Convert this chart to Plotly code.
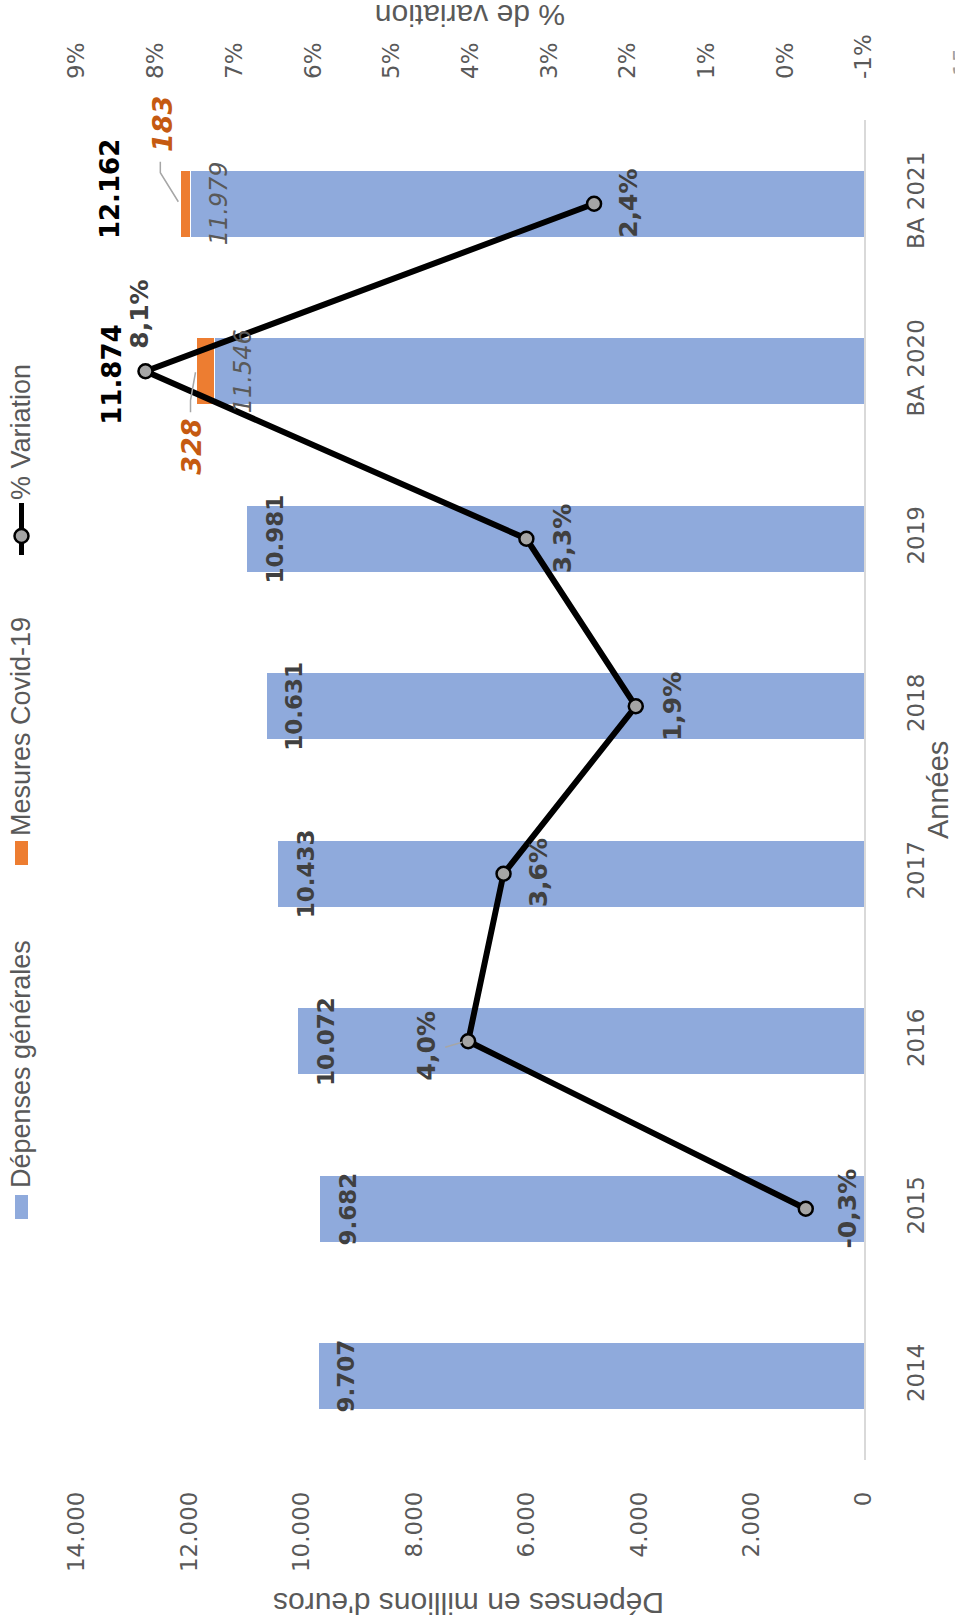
import plotly.graph_objects as go

# ---------------- data ----------------
categories = ["2014", "2015", "2016", "2017", "2018", "2019", "BA 2020", "BA 2021"]
general = [9707, 9682, 10072, 10433, 10631, 10981, 11546, 11979]
covid = [None, None, None, None, None, None, 328, 183]
totals = [None, None, None, None, None, None, 11874, 12162]

pct_categories = ["2015", "2016", "2017", "2018", "2019", "BA 2020", "BA 2021"]
pct_values = [-0.26, 4.03, 3.58, 1.90, 3.29, 8.13, 2.43]

spend_ticks = [0, 2000, 4000, 6000, 8000, 10000, 12000, 14000]
spend_tick_labels = ["0", "2.000", "4.000", "6.000", "8.000", "10.000", "12.000", "14.000"]
pct_ticks = [-1, 0, 1, 2, 3, 4, 5, 6, 7, 8, 9]
pct_tick_labels = ["-1%", "0%", "1%", "2%", "3%", "4%", "5%", "6%", "7%", "8%", "9%"]

# ---------------- layout constants ----------------
W, H = 955, 1623
L, R, T, B = 77, 91, 120, 163
PW, PH = W - L - R, H - T - B

BLUE = "#8faadc"
ORANGE = "#ed7d31"
DARK_ORANGE = "#c55a11"
GREY_TXT = "#595959"
LABEL_TXT = "#404040"


def fx(px):
    return (px - L) / PW


def fy(py):
    return (H - B - py) / PH


def cidx(cat):
    # position of a category on the category axis (index)
    return categories.index(cat)


def fmt_thousands(v):
    return f"{v:,}".replace(",", ".")


def fmt_pct(v):
    return f"{v:.1f}".replace(".", ",") + "%"


fig = go.Figure()

fig.add_trace(go.Bar(
    y=categories, x=general, orientation="h", name="Dépenses générales",
    marker=dict(color=BLUE, line=dict(color="white", width=1)), width=0.4,
    showlegend=False, hoverinfo="skip",
))
fig.add_trace(go.Bar(
    y=categories, x=covid, orientation="h", name="Mesures Covid-19",
    marker=dict(color=ORANGE, line=dict(color="white", width=1)), width=0.4,
    showlegend=False, hoverinfo="skip",
))
fig.add_trace(go.Scatter(
    y=pct_categories, x=pct_values, xaxis="x2", yaxis="y",
    mode="lines+markers", name="% Variation",
    line=dict(color="black", width=6),
    marker=dict(size=14, color="#a5a5a5", line=dict(color="black", width=2.5)),
    showlegend=False, hoverinfo="skip",
))

annotations = []

# general spending labels
for cat, v in zip(categories, general):
    if cat.startswith("BA"):
        font = dict(family="DejaVu Sans", size=24, color=GREY_TXT, style="italic")
    else:
        font = dict(family="DejaVu Sans", size=23, color=LABEL_TXT, weight="bold")
    annotations.append(dict(
        x=v, y=cidx(cat), xref="x", yref="y", text=fmt_thousands(v), showarrow=False,
        textangle=-90, xanchor="center", yanchor="middle", xshift=28, font=font,
    ))

# totals and covid labels
total_shift = {"BA 2020": (-84, -4), "BA 2021": (-71, 15)}
covid_shift = {"BA 2020": (-5, -76), "BA 2021": (-18, 80)}
for cat, tot, c in zip(categories, totals, covid):
    if tot is None:
        continue
    sx, sy = total_shift[cat]
    annotations.append(dict(
        x=tot, y=cidx(cat), xref="x", yref="y", text=fmt_thousands(tot), showarrow=False,
        textangle=-90, xanchor="center", yanchor="middle", xshift=sx, yshift=sy,
        font=dict(family="DejaVu Sans", size=26, color="black", weight="bold"),
    ))
    cx, cy = covid_shift[cat]
    annotations.append(dict(
        x=tot, y=cidx(cat), xref="x", yref="y", text=str(c), showarrow=False,
        textangle=-90, xanchor="center", yanchor="middle", xshift=cx, yshift=cy,
        font=dict(family="DejaVu Sans", size=27, color=DARK_ORANGE, weight="bold", style="italic"),
    ))

# percentage labels
pct_shift = {"2015": (42, 0), "2016": (-42, -5), "2017": (35, 1), "2018": (36, 0),
             "2019": (36, 0), "BA 2020": (-6, 57), "BA 2021": (35, 0)}
for cat, v in zip(pct_categories, pct_values):
    sx, sy = pct_shift[cat]
    annotations.append(dict(
        x=v, y=cidx(cat), xref="x2", yref="y", text=fmt_pct(v), showarrow=False,
        textangle=-90, xanchor="center", yanchor="middle", xshift=sx, yshift=sy,
        font=dict(family="DejaVu Sans", size=25, color=LABEL_TXT, weight="bold"),
    ))

# axis titles
annotations.append(dict(
    x=0.5, y=fy(16), xref="paper", yref="paper", text="% de variation", showarrow=False,
    textangle=180, xanchor="center", yanchor="middle",
    font=dict(family="Liberation Sans", size=30, color=GREY_TXT),
))
annotations.append(dict(
    x=fx(469), y=fy(1604), xref="paper", yref="paper", text="Dépenses en millions d'euros",
    showarrow=False, textangle=180, xanchor="center", yanchor="middle",
    font=dict(family="Liberation Sans", size=30, color=GREY_TXT),
))
annotations.append(dict(
    x=fx(938), y=0.5, xref="paper", yref="paper", text="Années", showarrow=False,
    textangle=-90, xanchor="center", yanchor="middle",
    font=dict(family="Liberation Sans", size=29, color=GREY_TXT),
))

# legend texts
legend_font = dict(family="Liberation Sans", size=27, color=GREY_TXT)
annotations.append(dict(x=fx(21), y=fy(1064), xref="paper", yref="paper", text="Dépenses générales",
                        showarrow=False, textangle=-90, xanchor="center", yanchor="middle", font=legend_font))
annotations.append(dict(x=fx(21), y=fy(727), xref="paper", yref="paper", text="Mesures Covid-19",
                        showarrow=False, textangle=-90, xanchor="center", yanchor="middle", font=legend_font))
annotations.append(dict(x=fx(21), y=fy(432), xref="paper", yref="paper", text="% Variation",
                        showarrow=False, textangle=-90, xanchor="center", yanchor="middle", font=legend_font))

# page number at the right edge (partly outside the page, as in the reference)
annotations.append(dict(x=fx(962), y=fy(62), xref="paper", yref="paper", text="15",
                        showarrow=False, textangle=-90, xanchor="center", yanchor="middle",
                        font=dict(family="DejaVu Sans", size=22, color="#a0a0a0")))

shapes = []
# legend symbols
shapes.append(dict(type="rect", xref="paper", yref="paper", x0=fx(15), x1=fx(28), y0=fy(1219), y1=fy(1195),
                   fillcolor=BLUE, line=dict(width=0)))
shapes.append(dict(type="rect", xref="paper", yref="paper", x0=fx(15), x1=fx(28), y0=fy(865), y1=fy(841),
                   fillcolor=ORANGE, line=dict(width=0)))
shapes.append(dict(type="line", xref="paper", yref="paper", x0=fx(21.5), x1=fx(21.5), y0=fy(503), y1=fy(555),
                   line=dict(color="black", width=5)))
shapes.append(dict(type="circle", xref="paper", yref="paper", x0=fx(14.5), x1=fx(28.5), y0=fy(543), y1=fy(529),
                   fillcolor="#a5a5a5", line=dict(color="black", width=2.5)))

# leader lines
leader = dict(type="path", xsizemode="pixel", ysizemode="pixel", line=dict(color="#a6a6a6", width=1.5))
shapes.append(dict(leader, xref="x", yref="y", xanchor=12162, yanchor=cidx("BA 2021"),
                   path="M -20 42 L -20 31 L -2 2"))
shapes.append(dict(leader, xref="x", yref="y", xanchor=11874, yanchor=cidx("BA 2020"),
                   path="M -6 -41 L -6 -29 L -1 -1"))
shapes.append(dict(leader, xref="x2", yref="y", xanchor=4.03, yanchor=cidx("2016"),
                   path="M -23 -6 L -6 -1"))

tick_font = dict(family="DejaVu Sans", size=23, color=GREY_TXT)

fig.update_layout(
    width=W, height=H, autosize=False,
    margin=dict(l=L, r=R, t=T, b=B, pad=0),
    paper_bgcolor="white", plot_bgcolor="white",
    barmode="stack", showlegend=False,
    xaxis=dict(range=[14000, 0], tickvals=spend_ticks, ticktext=spend_tick_labels,
               tickangle=-90, tickfont=tick_font, showgrid=False, zeroline=False,
               showline=False, ticks="", ticklabelstandoff=26),
    xaxis2=dict(range=[9, -1], tickvals=pct_ticks, ticktext=pct_tick_labels,
                overlaying="x", side="top", anchor="y",
                tickangle=-90, tickfont=tick_font, showgrid=False, zeroline=False,
                showline=False, ticks="", ticklabelstandoff=40),
    yaxis=dict(type="category", categoryorder="array", categoryarray=categories,
               range=[-0.5, len(categories) - 0.5],
               side="right", tickangle=-90, tickfont=tick_font, showgrid=False,
               zeroline=False, showline=True, linecolor="#d9d9d9", linewidth=1.5,
               ticks="", ticklabelstandoff=31),
    annotations=annotations,
    shapes=shapes,
)

fig.write_html("out.html")
